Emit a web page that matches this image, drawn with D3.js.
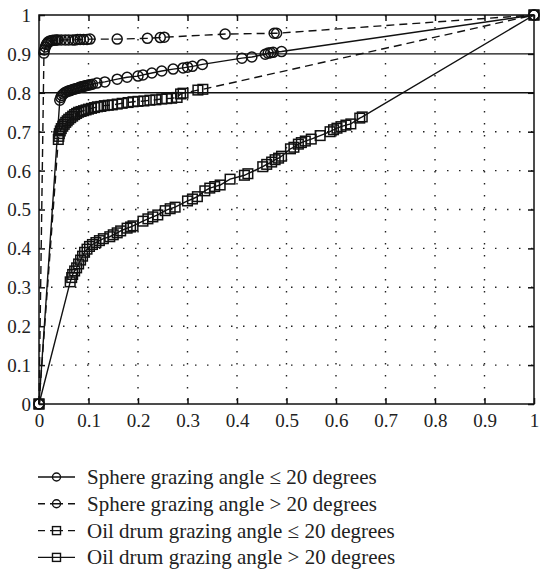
<!DOCTYPE html>
<html lang="en">
<head>
<meta charset="UTF-8">
<title>Detection curves</title>
<script src="https://d3js.org/d3.v7.min.js"></script>
<style>
    body { margin: 0; background: #fff; }
    svg { font-family: "Liberation Serif", "Times New Roman", serif; }
    .tick text { fill: #222; font-size: 19px; }
    .legend text { fill: #222; font-size: 21px; }
</style>
</head>
<body>
<div id="chart"></div>
<script>
    // tick values / labels
    const xTicks = [0, 0.1, 0.2, 0.3, 0.4, 0.5, 0.6, 0.7, 0.8, 0.9, 1];
    const yTicks = [0, 0.1, 0.2, 0.3, 0.4, 0.5, 0.6, 0.7, 0.8, 0.9, 1];
    const tickLabels = ["0", "0.1", "0.2", "0.3", "0.4", "0.5", "0.6", "0.7", "0.8", "0.9", "1"];
    const solidRefLines = [0.8, 0.9];

    // series, [x, y] pairs
    const sphereLow = [[0,0],[0.042,0.781],[0.044,0.788],[0.046,0.793],[0.049,0.797],[0.052,0.800],[0.055,0.802],
        [0.058,0.804],[0.061,0.805],[0.064,0.806],[0.067,0.808],[0.070,0.809],[0.073,0.810],[0.076,0.811],
        [0.079,0.812],[0.082,0.814],[0.085,0.815],[0.088,0.816],[0.091,0.817],[0.094,0.818],[0.097,0.819],
        [0.100,0.820],[0.104,0.821],[0.108,0.822],[0.117,0.825],[0.133,0.828],[0.158,0.835],[0.178,0.840],
        [0.200,0.843],[0.210,0.846],[0.228,0.851],[0.248,0.856],[0.271,0.861],[0.291,0.864],[0.300,0.866],
        [0.310,0.868],[0.330,0.873],[0.410,0.889],[0.430,0.892],[0.457,0.899],[0.463,0.902],[0.468,0.903],
        [0.473,0.904],[0.490,0.906],[1,1]];

    const sphereHigh = [[0,0],[0.010,0.902],[0.011,0.910],[0.013,0.918],[0.015,0.924],[0.017,0.928],[0.019,0.931],
        [0.022,0.933],[0.025,0.934],[0.028,0.935],[0.032,0.935],[0.035,0.936],[0.038,0.936],[0.045,0.936],
        [0.053,0.936],[0.060,0.936],[0.068,0.936],[0.073,0.936],[0.078,0.937],[0.083,0.937],[0.090,0.937],
        [0.097,0.937],[0.103,0.938],[0.158,0.938],[0.219,0.940],[0.245,0.942],[0.253,0.943],[0.376,0.951],
        [0.475,0.953],[0.480,0.953],[1,1]];

    const oilLow = [[0,0],[0.039,0.680],[0.040,0.688],[0.041,0.695],[0.043,0.702],[0.045,0.708],[0.048,0.714],
        [0.051,0.719],[0.054,0.724],[0.057,0.728],[0.060,0.732],[0.064,0.736],[0.068,0.740],[0.072,0.744],
        [0.076,0.747],[0.080,0.750],[0.085,0.752],[0.090,0.754],[0.095,0.756],[0.100,0.758],[0.106,0.760],
        [0.112,0.762],[0.118,0.764],[0.125,0.765],[0.132,0.767],[0.140,0.768],[0.148,0.769],[0.158,0.771],
        [0.168,0.773],[0.180,0.775],[0.190,0.777],[0.200,0.778],[0.212,0.779],[0.224,0.781],[0.236,0.782],
        [0.248,0.784],[0.258,0.785],[0.268,0.786],[0.279,0.788],[0.286,0.797],[0.291,0.799],[0.321,0.807],
        [0.331,0.809],[1,1]];

    const oilHigh = [[0,0],[0.063,0.314],[0.066,0.325],[0.068,0.333],[0.072,0.342],[0.076,0.350],[0.080,0.360],
        [0.084,0.370],[0.088,0.380],[0.092,0.390],[0.097,0.398],[0.102,0.405],[0.108,0.410],[0.115,0.415],
        [0.122,0.420],[0.130,0.425],[0.143,0.430],[0.150,0.435],[0.158,0.440],[0.165,0.445],[0.178,0.452],
        [0.185,0.455],[0.190,0.458],[0.210,0.470],[0.220,0.476],[0.230,0.481],[0.240,0.486],[0.255,0.497],
        [0.265,0.502],[0.275,0.506],[0.300,0.522],[0.310,0.527],[0.320,0.533],[0.335,0.548],[0.345,0.555],
        [0.355,0.559],[0.366,0.563],[0.386,0.578],[0.415,0.588],[0.422,0.592],[0.452,0.610],[0.460,0.616],
        [0.470,0.622],[0.477,0.628],[0.484,0.632],[0.490,0.637],[0.508,0.656],[0.515,0.660],[0.524,0.668],
        [0.530,0.672],[0.538,0.676],[0.550,0.681],[0.568,0.690],[0.588,0.700],[0.595,0.705],[0.602,0.709],
        [0.610,0.713],[0.620,0.717],[0.630,0.720],[0.648,0.735],[0.653,0.738],[1,1]];

    const legendLabels = [
        "Sphere grazing angle \u2264 20 degrees",
        "Sphere grazing angle > 20 degrees",
        "Oil drum grazing angle \u2264 20 degrees",
        "Oil drum grazing angle > 20 degrees"
    ];

    const series = [
        { data: sphereLow, dashed: false, marker: "circle" },
        { data: sphereHigh, dashed: true, marker: "circle" },
        { data: oilLow, dashed: true, marker: "square" },
        { data: oilHigh, dashed: false, marker: "square" }
    ];

    const W = 541, H = 569;
    const plot = { left: 39, right: 534, top: 15, bottom: 404 };

    const x = d3.scaleLinear().domain([0, 1]).range([plot.left, plot.right]);
    const y = d3.scaleLinear().domain([0, 1]).range([plot.bottom, plot.top]);

    const svg = d3.select("#chart").append("svg")
        .attr("width", W)
        .attr("height", H);

    // dotted grid
    const grid = svg.append("g");
    grid.selectAll(".vgrid")
        .data(xTicks.filter(d => d > 0 && d < 1))
        .enter().append("line")
        .attr("x1", d => x(d)).attr("x2", d => x(d))
        .attr("y1", plot.top).attr("y2", plot.bottom)
        .attr("stroke", "#222").attr("stroke-width", 1.4)
        .attr("stroke-dasharray", "1.5,10.5");
    grid.selectAll(".hgrid")
        .data(yTicks.filter(d => d > 0 && d < 1 && !solidRefLines.includes(d)))
        .enter().append("line")
        .attr("x1", plot.left).attr("x2", plot.right)
        .attr("y1", d => y(d)).attr("y2", d => y(d))
        .attr("stroke", "#222").attr("stroke-width", 1.4)
        .attr("stroke-dasharray", "1.5,10.5");

    // solid reference lines
    svg.selectAll(".ref")
        .data(solidRefLines)
        .enter().append("line")
        .attr("x1", plot.left).attr("x2", plot.right)
        .attr("y1", d => y(d)).attr("y2", d => y(d))
        .attr("stroke", "#111").attr("stroke-width", 1.4);

    // axes with inner ticks
    const gBottom = svg.append("g")
        .attr("transform", `translate(0,${plot.bottom})`)
        .call(d3.axisBottom(x).tickValues(xTicks).tickFormat(d => tickLabels[xTicks.indexOf(d)]).tickSize(-6).tickPadding(10));
    const gLeft = svg.append("g")
        .attr("transform", `translate(${plot.left},0)`)
        .call(d3.axisLeft(y).tickValues(yTicks).tickFormat(d => tickLabels[yTicks.indexOf(d)]).tickSize(-6).tickPadding(8));
    const gTop = svg.append("g")
        .attr("transform", `translate(0,${plot.top})`)
        .call(d3.axisTop(x).tickValues(xTicks).tickFormat("").tickSize(-6));
    const gRight = svg.append("g")
        .attr("transform", `translate(${plot.right},0)`)
        .call(d3.axisRight(y).tickValues(yTicks).tickFormat("").tickSize(-6));
    [gBottom, gLeft, gTop, gRight].forEach(g => {
        g.attr("font-family", null).attr("font-size", null);
        g.select(".domain").remove();
        g.selectAll(".tick line").attr("stroke", "#111").attr("stroke-width", 1.5);
    });
    gLeft.selectAll(".tick text").attr("dy", "0.34em");

    // curves
    const line = d3.line().x(d => x(d[0])).y(d => y(d[1]));
    series.forEach(s => {
        svg.append("path")
            .datum(s.data)
            .attr("fill", "none")
            .attr("stroke", "#111")
            .attr("stroke-width", 1.4)
            .attr("stroke-dasharray", s.dashed ? "8,5" : null)
            .attr("d", line);
    });

    function drawMarker(g, kind, cx, cy, size, sw) {
        if (kind === "circle") {
            g.append("circle").attr("cx", cx).attr("cy", cy).attr("r", size)
                .attr("fill", "none").attr("stroke", "#111").attr("stroke-width", sw);
        } else {
            g.append("rect").attr("x", cx - size).attr("y", cy - size)
                .attr("width", size * 2).attr("height", size * 2)
                .attr("fill", "none").attr("stroke", "#111").attr("stroke-width", sw);
        }
    }

    series.forEach(s => {
        const g = svg.append("g");
        s.data.forEach(d => drawMarker(g, s.marker, x(d[0]), y(d[1]), s.marker === "circle" ? 5 : 4.8, 1.5));
    });

    // frame
    svg.append("rect")
        .attr("x", plot.left).attr("y", plot.top)
        .attr("width", plot.right - plot.left).attr("height", plot.bottom - plot.top)
        .attr("fill", "none").attr("stroke", "#111").attr("stroke-width", 1.5);

    // legend
    const legend = svg.append("g").attr("class", "legend");
    const lx0 = 38, lx1 = 75, ltext = 87, ly0 = 477, lstep = 26.8;
    legendLabels.forEach((label, i) => {
        const s = series[i];
        const ly = ly0 + i * lstep;
        legend.append("line")
            .attr("x1", lx0).attr("x2", lx1).attr("y1", ly).attr("y2", ly)
            .attr("stroke", "#111").attr("stroke-width", 1.4)
            .attr("stroke-dasharray", s.dashed ? "7,5,13,5,7,50" : null);
        drawMarker(legend, s.marker, (lx0 + lx1) / 2, ly, 4, 1.4);
        legend.append("text")
            .attr("x", ltext).attr("y", ly).attr("dy", "0.33em")
            .text(label);
    });
</script>
</body>
</html>
